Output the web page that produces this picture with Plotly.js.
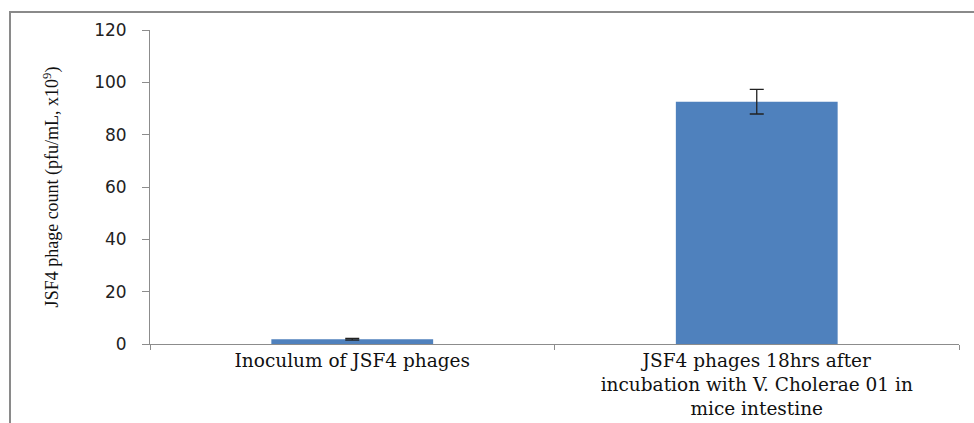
<!DOCTYPE html>
<html>
<head>
<meta charset="utf-8">
<script src="https://cdn.plot.ly/plotly-3.0.1.min.js"></script>
<style>
html,body{margin:0;padding:0;background:#fff;}
#wrap{position:relative;width:974px;height:423px;}
#chart{position:absolute;left:0;top:0;width:974px;height:423px;}
#frame{position:absolute;left:9px;top:11px;width:980px;height:430px;border-left:2px solid #8a8a8a;border-top:2px solid #8a8a8a;pointer-events:none;}
</style>
</head>
<body>
<div id="wrap"><div id="chart"></div><div id="frame"></div></div>
<script>
const categories = ["Inoculum of JSF4 phages", "JSF4 phages 18hrs after<br>incubation with V. Cholerae 01 in<br>mice intestine"];
const counts = [1.8, 92.6];
const errors = [0.3, 4.7];
const yTicks = [0, 20, 40, 60, 80, 100, 120];

const trace = {
  type: "bar",
  x: categories,
  y: counts,
  marker: {color: "#4f81bd"},
  width: 0.4,
  error_y: {type: "data", array: errors, visible: true, color: "#222", thickness: 1.3, width: 7}
};

const layout = {
  width: 974, height: 423,
  margin: {l: 150, r: 15, t: 30, b: 79},
  paper_bgcolor: "#fff", plot_bgcolor: "#fff",
  showlegend: false,
  bargap: 0.6,
  xaxis: {
    type: "category",
    showline: true, linecolor: "#8c8c8c", linewidth: 1,
    ticks: "outside", tickson: "boundaries", ticklen: 5, tickcolor: "#8c8c8c",
    ticklabelstandoff: 0,
    showgrid: false, zeroline: false,
    tickfont: {family: "DejaVu Serif", size: 18.5, color: "#111"}
  },
  yaxis: {
    range: [0, 120],
    tickvals: yTicks,
    showline: true, linecolor: "#8c8c8c", linewidth: 1,
    ticks: "outside", ticklen: 7, tickcolor: "#8c8c8c",
    ticklabelstandoff: 12,
    showgrid: false, zeroline: false,
    tickfont: {family: "DejaVu Sans", size: 17, color: "#222"},
    title: {text: "JSF4 phage count (pfu/mL, x10<sup>9</sup>)", font: {family: "Liberation Serif", size: 18, color: "#111"}, standoff: 30}
  }
};

Plotly.newPlot("chart", [trace], layout, {displayModeBar: false, staticPlot: true});
</script>
</body>
</html>
